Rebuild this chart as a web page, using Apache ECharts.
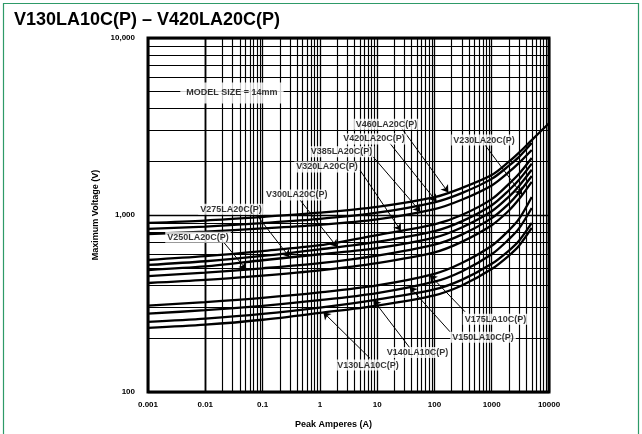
<!DOCTYPE html>
<html><head><meta charset="utf-8">
<script src="https://cdn.jsdelivr.net/npm/echarts@6/dist/echarts.min.js"></script>
<style>html,body{margin:0;padding:0;background:#fff}#c{width:642px;height:434px}</style>
</head><body><div id="c"></div>
<script>
// Peak current sample points (A)
const currents = [0.001, 0.01, 0.1, 1, 10, 100, 300, 1000, 2000, 3000, 5000, 10000];
// Maximum voltage (V) read for each model
const v460 = [902, 930, 975, 1030, 1110, 1260, 1420, 1680, 2000, 2250, 2650, 3300];
const v420 = [834, 860, 900, 950, 1030, 1180, 1330, 1600, 1900, 2130, 2550, null];
const v385 = [781, 805, 840, 880, 945, 1080, 1220, 1470, 1750, 1970, 2330, null];
const v320 = [557, 585, 625, 675, 770, 885, 1000, 1230, 1500, 1710, 2100, null];
const v300 = [522, 548, 587, 640, 705, 810, 920, 1135, 1380, 1580, 1950, null];
const v275 = [489, 512, 555, 600, 650, 745, 850, 1050, 1270, 1460, 1800, null];
const v250 = [452, 472, 500, 535, 590, 680, 775, 960, 1160, 1340, 1660, null];
const v230 = [413, 430, 455, 487, 535, 615, 705, 875, 1060, 1230, 1540, null];
const v175 = [308, 322, 340, 365, 400, 465, 535, 670, 820, 950, 1265, null];
const v150 = [277, 290, 307, 330, 362, 420, 480, 600, 730, 840, 1096, null];
const v140 = [249, 260, 276, 300, 333, 380, 430, 530, 630, 715, 902, null];
const v130 = [230, 240, 256, 280, 308, 352, 400, 495, 590, 670, 845, null];

const seriesNames = ['V460LA20C(P)','V420LA20C(P)','V385LA20C(P)','V320LA20C(P)','V300LA20C(P)','V275LA20C(P)','V250LA20C(P)','V230LA20C(P)','V175LA10C(P)','V150LA10C(P)','V140LA10C(P)','V130LA10C(P)'];
const seriesValues = [v460, v420, v385, v320, v300, v275, v250, v230, v175, v150, v140, v130];

const xTickLabels = ['0.001','0.01','0.1','1','10','100','1000','10000'];
const yTickLabels = ['100','1,000','10,000'];

// Callouts: label anchor, arrow start, arrow tip (data coordinates: [A, V])
const calloutNames = ['MODEL SIZE = 14mm','V460LA20C(P)','V420LA20C(P)','V385LA20C(P)','V320LA20C(P)','V300LA20C(P)','V275LA20C(P)','V250LA20C(P)','V230LA20C(P)','V175LA10C(P)','V150LA10C(P)','V140LA10C(P)','V130LA10C(P)'];
const calloutAt = [[0.0292,4890],[14.6,3254],[8.8,2688],[2.39,2279],[1.33,1867],[0.394,1297],[0.0281,1077],[0.00746,748],[733,2652],[1164,258],[705,204],[50.6,167],[6.92,142]];
const arrowFrom = [null,[26.9,3090],[16.7,2541],[7.5,2234],[5.0,1795],[0.45,1216],[0.079,1000],[0.0206,706],[764,2486],[342,284],[187,219],[37.5,177],[7.5,155]];
const arrowTo = [null,[175,1340],[109,1190],[57,1044],[26,815],[2.0,659],[0.295,578],[0.052,492],[3400,1300],[83,458],[37,392],[8.6,331],[1.15,282]];

const FONT = 'Liberation Sans, Arial, sans-serif';

const xMinor = [], yMinor = [];
for (let e = -3; e < 4; e++) for (let k = 2; k <= 9; k++) xMinor.push(+(k * Math.pow(10, e)).toPrecision(3));
for (let e = 2; e < 4; e++) for (let k = 2; k <= 9; k++) yMinor.push(k * Math.pow(10, e));

const chart = echarts.init(document.getElementById('c'), null, {renderer: 'canvas'});

const series = [];
series.push({
  type: 'line', data: [], silent: true, z: 1,
  markLine: {
    silent: true, symbol: 'none', animation: false,
    label: {show: false},
    lineStyle: {color: '#000', width: 1.15, type: 'solid', opacity: 1},
    emphasis: {disabled: true},
    data: xMinor.map(v => ({xAxis: v})).concat(yMinor.map(v => ({yAxis: v})))
  }
});
seriesValues.forEach((arr, i) => {
  series.push({
    name: seriesNames[i], type: 'line', z: 3,
    data: currents.map((c, j) => [c, arr[j]]).filter(p => p[1] != null),
    showSymbol: false, smooth: 0.3, silent: true,
    lineStyle: {color: '#000', width: 2.3}
  });
});
series.push({
  type: 'scatter', z: 5, silent: true, symbolSize: 0,
  data: calloutNames.map((n, i) => ({name: n, value: calloutAt[i]})),
  label: {
    show: true, position: 'inside', formatter: '{b}', color: '#000',
    fontFamily: FONT, fontSize: 9, fontWeight: 'bold',
    backgroundColor: '#fff', padding: [1, 2]
  },
  markLine: {
    silent: true, animation: false, symbol: ['none', 'arrow'], symbolSize: 7,
    label: {show: false},
    lineStyle: {color: '#000', width: 1, type: 'solid'},
    data: arrowFrom.map((f, i) => f ? [{coord: f}, {coord: arrowTo[i]}] : null).filter(Boolean)
  }
});
// enlarge the model-size box
series[series.length - 1].data[0].label = {padding: [6, 6]};

chart.setOption({
  animation: false,
  backgroundColor: '#fff',
  title: {
    text: 'V130LA10C(P) – V420LA20C(P)', left: 9, top: 6,
    textStyle: {fontFamily: FONT, fontSize: 18, fontWeight: 'bold', color: '#000'}
  },
  graphic: [{
    type: 'rect', shape: {x: 3.5, y: 3.5, width: 635, height: 440},
    style: {fill: 'none', stroke: '#2e9a68', lineWidth: 1.2}, silent: true
  }],
  grid: {left: 148, top: 38, width: 401, height: 354, show: true, borderColor: '#000', borderWidth: 3, containLabel: false},
  xAxis: {
    type: 'log', logBase: 10, min: 0.001, max: 10000, splitNumber: 10,
    name: 'Peak Amperes (A)', nameLocation: 'middle', nameGap: 28,
    nameTextStyle: {fontFamily: FONT, fontSize: 9, fontWeight: 'bold', color: '#000', padding: [0, 30, 0, 0]},
    axisLine: {show: false}, axisTick: {show: false},
    axisLabel: {
      margin: 9, fontFamily: FONT, fontSize: 8, fontWeight: 'bold', color: '#000',
      formatter: v => xTickLabels[Math.round(Math.log10(v)) + 3]
    },
    splitLine: {show: true, lineStyle: {color: '#000', width: 1.3}}
  },
  yAxis: {
    type: 'log', logBase: 10, min: 100, max: 10000, splitNumber: 2,
    name: 'Maximum Voltage (V)', nameLocation: 'middle', nameGap: 40,
    nameTextStyle: {fontFamily: FONT, fontSize: 9, fontWeight: 'bold', color: '#000'},
    axisLine: {show: false}, axisTick: {show: false},
    axisLabel: {
      margin: 13, fontFamily: FONT, fontSize: 8, fontWeight: 'bold', color: '#000',
      formatter: v => yTickLabels[Math.round(Math.log10(v)) - 2]
    },
    splitLine: {show: true, lineStyle: {color: '#000', width: 1.4}}
  },
  series: series
});
</script></body></html>
